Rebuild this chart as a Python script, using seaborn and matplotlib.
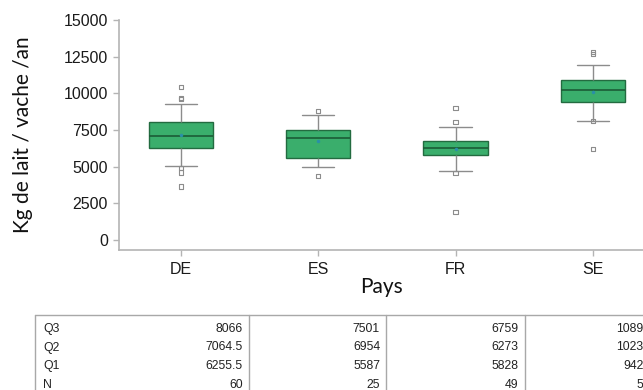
import matplotlib
matplotlib.use("Agg")
import matplotlib.pyplot as plt
from matplotlib.lines import Line2D
import numpy as np
import pandas as pd
import seaborn as sns

# ---- data ----
countries = ["DE", "ES", "FR", "SE"]
q3 = [8066, 7501, 6759, 10893]
q2 = [7064.5, 6954, 6273, 10230]
q1 = [6255.5, 5587, 5828, 9422]
n_obs = [60, 25, 49, 56]
whisker_low = [5050, 5000, 4680, 8140]
whisker_high = [9300, 8520, 7680, 11910]
means = [7150, 6750, 6200, 10110]

outlier_country = ["DE", "DE", "DE", "DE", "DE", "DE",
                   "ES", "ES",
                   "FR", "FR", "FR", "FR",
                   "SE", "SE", "SE", "SE"]
outlier_value = [10450, 9700, 9600, 4900, 4600, 3650,
                 8800, 4370,
                 9020, 8020, 4550, 1910,
                 12800, 12700, 8090, 6230]

table_rows = ["Q3", "Q2", "Q1", "N"]
y_ticks = [0, 2500, 5000, 7500, 10000, 12500, 15000]

# ---- styling ----
sns.set_style("ticks")
plt.rcParams["font.family"] = ["Liberation Sans", "DejaVu Sans"]

W, H = 643, 390
fig = plt.figure(figsize=(W / 100, H / 100), dpi=100)


def fx(px):
    return px / W


def fy(py):
    return 1 - py / H


ax = fig.add_axes([fx(119), fy(250), fx(655) - fx(119), fy(20) - fy(250)])

box_fill = "#3aae6c"
box_edge = "#236b40"
grey = "#8c8c8c"
spine_col = "#b4b4b4"

# five-number summary per country -> box from 25/50/75 percentiles, whiskers at min/max
core = pd.DataFrame({
    "Pays": np.repeat(countries, 5),
    "val": np.ravel(np.column_stack([whisker_low, q1, q2, q3, whisker_high])),
})
sns.boxplot(data=core, x="Pays", y="val", order=countries, ax=ax,
            whis=(0, 100), showfliers=False, width=0.47, saturation=1,
            color=box_fill, linecolor=box_edge, linewidth=1.0,
            whiskerprops={"color": grey, "linewidth": 1.0},
            capprops={"color": grey, "linewidth": 1.0},
            medianprops={"color": "#1b5c36", "linewidth": 1.2})

# outliers as small hollow squares
n0 = len(ax.collections)
sns.stripplot(x=outlier_country, y=outlier_value, order=countries, ax=ax,
              jitter=False, marker="s", size=3.0, color=grey,
              edgecolor=grey, linewidth=0.8)
for coll in ax.collections[n0:]:
    coll.set_facecolor("none")
    coll.set_edgecolor(grey)

# means
sns.stripplot(x=countries, y=means, order=countries, ax=ax, jitter=False,
              marker="o", size=2.5, color="#2a8fa8", linewidth=0)

ax.set_xlim(-0.45, 3.452)
ax.set_ylim(-682, 15000)
ax.set_yticks(y_ticks)
ax.set_yticklabels([str(v) for v in y_ticks])
ax.set_xlabel("")
ax.set_ylabel("")
for s in ["top", "right"]:
    ax.spines[s].set_visible(False)
for s in ["left", "bottom"]:
    ax.spines[s].set_color(spine_col)
    ax.spines[s].set_linewidth(1.2)
ax.tick_params(axis="both", colors=spine_col, length=4, width=1,
               labelsize=11.5, labelcolor="#1a1a1a", pad=4)
ax.tick_params(axis="x", pad=5)

# axis titles
fig.text(fx(23), fy(135), "Kg de lait / vache /an", rotation=90,
         ha="center", va="center", fontsize=15, family=["Lato", "DejaVu Sans"],
         color="#111111")
fig.text(fx(381), fy(287), "Pays", ha="center", va="center",
         fontsize=15, family=["Lato", "DejaVu Sans"], color="#111111")

# summary table below the plot
col_edges = [35, 249, 386, 525, 662]
value_right = [243, 380, 518, 650]
row_y = [329, 347.5, 366, 384.5]
tab_col = "#a8a8a8"
fig.add_artist(Line2D([fx(35), fx(700)], [fy(315), fy(315)],
                      color=tab_col, linewidth=1.0))
for xe in col_edges:
    fig.add_artist(Line2D([fx(xe), fx(xe)], [fy(315), fy(400)],
                          color=tab_col, linewidth=1.0))

stats = [q3, q2, q1, n_obs]
for r, (name, vals) in enumerate(zip(table_rows, stats)):
    fig.text(fx(43), fy(row_y[r]), name, ha="left", va="center",
             fontsize=8.8, color="#222222")
    for c, v in enumerate(vals):
        fig.text(fx(value_right[c]), fy(row_y[r]), f"{v:g}", ha="right",
                 va="center", fontsize=8.8, color="#222222")

fig.savefig("out.png", dpi=100)
